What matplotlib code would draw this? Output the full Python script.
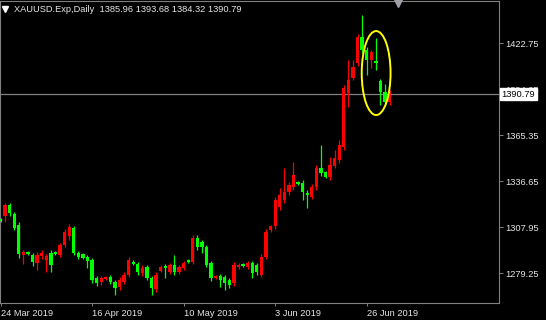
import matplotlib
matplotlib.use("Agg")
import matplotlib.pyplot as plt
from matplotlib.patches import Ellipse
import numpy as np

# ---- data (daily XAUUSD candles, index = bar number) ----
opens = [1313.0, 1314.8, 1321.7, 1316.1, 1309.2, 1290.5, 1292.4, 1290.5, 1285.5, 1289.9,
         1287.4, 1291.8, 1292.4, 1290.5, 1296.7, 1302.4, 1307.3, 1291.8, 1291.1, 1289.3,
         1287.4, 1276.2, 1273.7, 1275.5, 1276.8, 1273.7, 1270.5, 1273.7, 1278.0, 1286.1,
         1284.9, 1279.3, 1283.0, 1276.2, 1269.3, 1280.5, 1283.6, 1279.9, 1284.3, 1279.9,
         1282.4, 1287.4, 1286.1, 1301.1, 1298.6, 1295.5, 1285.5, 1276.2, 1277.4, 1276.8,
         1274.9, 1273.0, 1283.0, 1284.9, 1283.0, 1285.5, 1284.3, 1278.0, 1289.3, 1306.1,
         1308.6, 1320.4, 1324.8, 1329.8, 1332.9, 1336.0, 1335.4, 1329.2, 1326.7, 1332.9,
         1344.8, 1342.3, 1339.2, 1346.0, 1349.8, 1357.9, 1391.6, 1400.9, 1410.3, 1426.5,
         1418.4, 1412.1, 1411.5, 1399.0, 1392.2, 1385.96]
highs = [1313.6, 1322.9, 1322.9, 1317.3, 1311.1, 1293.6, 1293.0, 1291.8, 1292.4, 1293.6,
         1291.1, 1293.6, 1293.0, 1298.0, 1306.7, 1309.8, 1308.6, 1293.0, 1291.8, 1290.5,
         1288.6, 1277.4, 1277.4, 1277.4, 1278.0, 1274.9, 1276.8, 1279.9, 1289.3, 1287.4,
         1286.1, 1284.3, 1284.3, 1277.4, 1279.9, 1284.3, 1284.9, 1285.5, 1290.5, 1284.3,
         1286.8, 1288.0, 1303.0, 1303.0, 1299.9, 1296.7, 1286.8, 1278.0, 1278.6, 1278.0,
         1276.2, 1286.1, 1285.5, 1285.5, 1286.8, 1286.8, 1285.5, 1291.1, 1306.7, 1309.2,
         1326.7, 1332.3, 1344.8, 1336.0, 1348.5, 1336.7, 1337.3, 1331.1, 1334.8, 1346.6,
         1359.1, 1342.9, 1351.6, 1356.0, 1362.2, 1396.5, 1412.1, 1412.1, 1428.4, 1440.2,
         1420.3, 1418.4, 1425.9, 1400.3, 1397.2, 1393.68]
lows = [1311.1, 1311.1, 1314.8, 1306.1, 1288.6, 1284.9, 1290.5, 1283.6, 1281.1, 1288.0,
        1279.9, 1279.9, 1290.5, 1289.3, 1295.5, 1299.9, 1290.5, 1288.0, 1288.0, 1282.4,
        1273.0, 1271.2, 1271.8, 1274.9, 1272.4, 1265.6, 1268.7, 1272.4, 1276.8, 1284.3,
        1278.0, 1277.4, 1274.9, 1265.6, 1267.4, 1279.9, 1276.2, 1278.6, 1278.0, 1278.6,
        1281.1, 1285.5, 1284.9, 1293.6, 1291.8, 1283.0, 1274.3, 1275.5, 1270.5, 1268.7,
        1269.9, 1271.2, 1281.8, 1283.0, 1281.8, 1276.2, 1278.0, 1276.8, 1288.0, 1304.9,
        1306.7, 1318.6, 1322.9, 1327.9, 1331.1, 1334.2, 1324.8, 1319.8, 1325.4, 1331.1,
        1339.8, 1338.5, 1337.3, 1344.8, 1347.9, 1356.0, 1382.8, 1399.7, 1408.4, 1416.5,
        1402.8, 1407.2, 1405.9, 1384.1, 1384.7, 1384.32]
closes = [1311.7, 1321.7, 1316.7, 1307.3, 1291.1, 1292.4, 1291.1, 1286.1, 1290.5, 1291.8,
          1289.9, 1284.3, 1291.1, 1296.7, 1304.9, 1308.0, 1291.8, 1289.3, 1288.6, 1286.8,
          1274.9, 1273.0, 1276.2, 1276.8, 1273.7, 1269.9, 1274.9, 1278.0, 1287.4, 1284.9,
          1279.9, 1282.4, 1276.2, 1269.9, 1278.0, 1283.0, 1282.4, 1284.3, 1279.9, 1283.0,
          1285.5, 1286.1, 1301.1, 1295.5, 1295.5, 1284.3, 1276.2, 1277.4, 1274.9, 1273.0,
          1271.8, 1284.3, 1284.3, 1283.6, 1285.5, 1279.3, 1279.9, 1289.3, 1304.9, 1308.6,
          1324.8, 1327.9, 1329.8, 1334.2, 1340.4, 1334.8, 1329.8, 1327.9, 1332.9, 1344.8,
          1341.7, 1339.2, 1346.6, 1351.0, 1359.1, 1394.7, 1399.7, 1407.8, 1426.5, 1418.4,
          1412.1, 1417.1, 1410.3, 1392.2, 1385.9, 1390.79]

xtick_pos = [0, 20, 40, 60, 80]
xtick_labels = ["24 Mar 2019", "16 Apr 2019", "10 May 2019", "3 Jun 2019", "26 Jun 2019"]
ytick_vals = [1279.25, 1307.95, 1336.65, 1365.35, 1394.05, 1422.75]
ytick_labels = ["1279.25", "1307.95", "1336.65", "1365.35", "1394.05", "1422.75"]
current_price = 1390.79
title_text = "XAUUSD.Exp,Daily  1385.96 1393.68 1384.32 1390.79"

# ---- style ----
FONT = "Liberation Sans"
FS = 6.7
BULL = "#ff0000"
BEAR = "#00ff00"
GRAY = "#808080"
TXT = "#e6e6e6"

W, H = 546, 320
fig = plt.figure(figsize=(W / 100, H / 100), dpi=100, facecolor="black")
ax = fig.add_axes([0 / W, 17 / H, 499 / W, 302 / H])
ax.set_facecolor("black")

o = np.array(opens); h = np.array(highs); l = np.array(lows); c = np.array(closes)
idx = np.arange(len(o))
colors = np.where(c >= o, BULL, BEAR)

ax.vlines(idx, l, h, colors=colors, linewidth=0.9, zorder=2)
bottoms = np.minimum(o, c)
heights = np.maximum(np.abs(c - o), 0.7)
ax.bar(idx, heights, bottom=bottoms, width=0.72, color=colors, edgecolor=colors,
       linewidth=0, zorder=3)

ax.axhline(current_price, color=GRAY, linewidth=0.9, zorder=1)

ax.set_xlim(-0.11, 108.9)
ax.set_ylim(1260.56, 1448.95)

for s in ax.spines.values():
    s.set_color(GRAY)
    s.set_linewidth(0.8)

ax.yaxis.tick_right()
ax.set_yticks(ytick_vals)
ax.set_yticklabels(ytick_labels, fontfamily=FONT, fontsize=FS, color=TXT)
ax.tick_params(axis="y", direction="out", length=3, width=0.7, color=GRAY, pad=1.5)

ax.set_xticks(xtick_pos)
ax.set_xticklabels(xtick_labels, fontfamily=FONT, fontsize=FS, color=TXT)
for lbl in ax.get_xticklabels():
    lbl.set_ha("left")
ax.tick_params(axis="x", direction="out", length=2, width=0.7, color=GRAY, pad=2)

# current price box
ax.annotate("1390.79", xy=(1.0, current_price), xycoords=("axes fraction", "data"),
            xytext=(1.6, 0), textcoords="offset points", ha="left", va="center",
            fontfamily=FONT, fontsize=FS, color="black", annotation_clip=False,
            bbox=dict(boxstyle="square,pad=0.18", fc="white", ec="white"), zorder=10)

# title and markers
fig.text(14 / W, 1 - 10 / H, title_text, fontfamily=FONT, fontsize=FS, color=TXT,
         ha="left", va="center")
ax.plot([5 / 499], [(303 - 9) / 302], marker="v", color="white", markersize=4,
        transform=ax.transAxes, clip_on=False, zorder=10)
ax.plot([398 / 499], [(303 - 2) / 302], marker="v", color="#a0a0a8", markersize=7,
        transform=ax.transAxes, clip_on=False, zorder=10)

# highlight ellipse
ell = Ellipse((82.06, 1404.0), width=6.3, height=52.4, fill=False,
              edgecolor="#ffff00", linewidth=1.4, zorder=6)
ax.add_patch(ell)

fig.savefig("out.png", dpi=100, facecolor="black")
